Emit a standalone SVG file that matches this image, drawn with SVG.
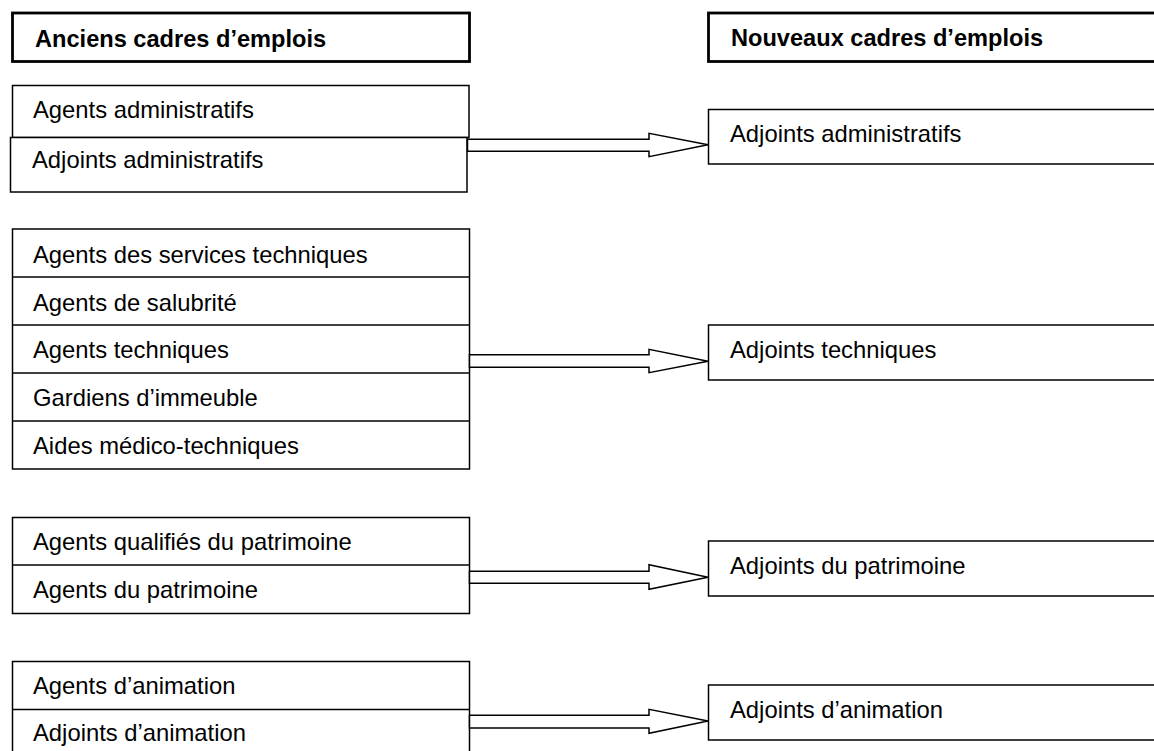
<svg xmlns="http://www.w3.org/2000/svg" width="1154" height="751" viewBox="0 0 1154 751">
<style>
  .hdr { fill: #fff; stroke: #000; stroke-width: 2.8; }
  .box { fill: #fff; stroke: #000; stroke-width: 1.5; }
  .sep { stroke: #000; stroke-width: 1.5; }
  .t { font-family: "Liberation Sans", Arial, sans-serif; font-size: 23.8px; fill: #000; }
  .tb { font-family: "Liberation Sans", Arial, sans-serif; font-size: 23.6px; font-weight: bold; fill: #000; }
  .arr { fill: #fff; stroke: #000; stroke-width: 1.5; stroke-linejoin: miter; }
</style>
<rect width="1154" height="751" fill="#fff"/>

<g id="header-old">
  <rect class="hdr" x="12.5" y="13" width="457" height="48.5"/>
  <text class="tb" x="35" y="47">Anciens cadres d’emplois</text>
</g>
<g id="header-new">
  <rect class="hdr" x="708.5" y="13" width="460" height="48.5"/>
  <text class="tb" x="731" y="46">Nouveaux cadres d’emplois</text>
</g>

<g id="old-admin">
  <g id="old-agents-administratifs">
    <rect class="box" x="12.5" y="85.5" width="456.5" height="52"/>
    <text class="t" x="33" y="118">Agents administratifs</text>
  </g>
  <g id="old-adjoints-administratifs">
    <rect class="box" x="10.5" y="137.5" width="456.5" height="54.5"/>
    <text class="t" x="32" y="168">Adjoints administratifs</text>
  </g>
</g>

<g id="old-technique">
  <rect class="box" x="12.5" y="229" width="457" height="240"/>
  <line class="sep" x1="12.5" y1="277" x2="469.5" y2="277"/>
  <line class="sep" x1="12.5" y1="325" x2="469.5" y2="325"/>
  <line class="sep" x1="12.5" y1="373" x2="469.5" y2="373"/>
  <line class="sep" x1="12.5" y1="421" x2="469.5" y2="421"/>
  <text class="t" x="33" y="262.5">Agents des services techniques</text>
  <text class="t" x="33" y="310.5">Agents de salubrité</text>
  <text class="t" x="33" y="357.5">Agents techniques</text>
  <text class="t" x="33" y="405.5">Gardiens d’immeuble</text>
  <text class="t" x="33" y="453.5">Aides médico-techniques</text>
</g>

<g id="old-patrimoine">
  <rect class="box" x="12.5" y="517.5" width="457" height="96"/>
  <line class="sep" x1="12.5" y1="565" x2="469.5" y2="565"/>
  <text class="t" x="33" y="549.5">Agents qualifiés du patrimoine</text>
  <text class="t" x="33" y="597.5">Agents du patrimoine</text>
</g>

<g id="old-animation">
  <rect class="box" x="12.5" y="661.5" width="457" height="100"/>
  <line class="sep" x1="12.5" y1="709.5" x2="469.5" y2="709.5"/>
  <text class="t" x="33" y="693.5">Agents d’animation</text>
  <text class="t" x="33" y="741">Adjoints d’animation</text>
</g>

<g id="new-admin">
  <rect class="box" x="708.5" y="109.5" width="460" height="54.5"/>
  <text class="t" x="730" y="142">Adjoints administratifs</text>
</g>
<g id="new-technique">
  <rect class="box" x="708.5" y="325" width="460" height="55"/>
  <text class="t" x="730" y="358">Adjoints techniques</text>
</g>
<g id="new-patrimoine">
  <rect class="box" x="708.5" y="541" width="460" height="55"/>
  <text class="t" x="730" y="574">Adjoints du patrimoine</text>
</g>
<g id="new-animation">
  <rect class="box" x="708.5" y="685" width="460" height="55"/>
  <text class="t" x="730" y="718">Adjoints d’animation</text>
</g>

<g id="connectors">
  <polygon class="arr" points="467.5,139.3 649,139.3 649,133.3 708,144.7 649,156.7 649,151.3 467.5,151.3"/>
  <polygon class="arr" points="469.5,354.7 649,354.7 649,349.3 708,361.3 649,372.7 649,367.3 469.5,367.3"/>
  <polygon class="arr" points="469.5,571.3 649,571.3 649,564.7 708,577.3 649,589.3 649,583.3 469.5,583.3"/>
  <polygon class="arr" points="469.5,715.3 649,715.3 649,709.3 708,721 649,733.3 649,728 469.5,728"/>
</g>
</svg>
